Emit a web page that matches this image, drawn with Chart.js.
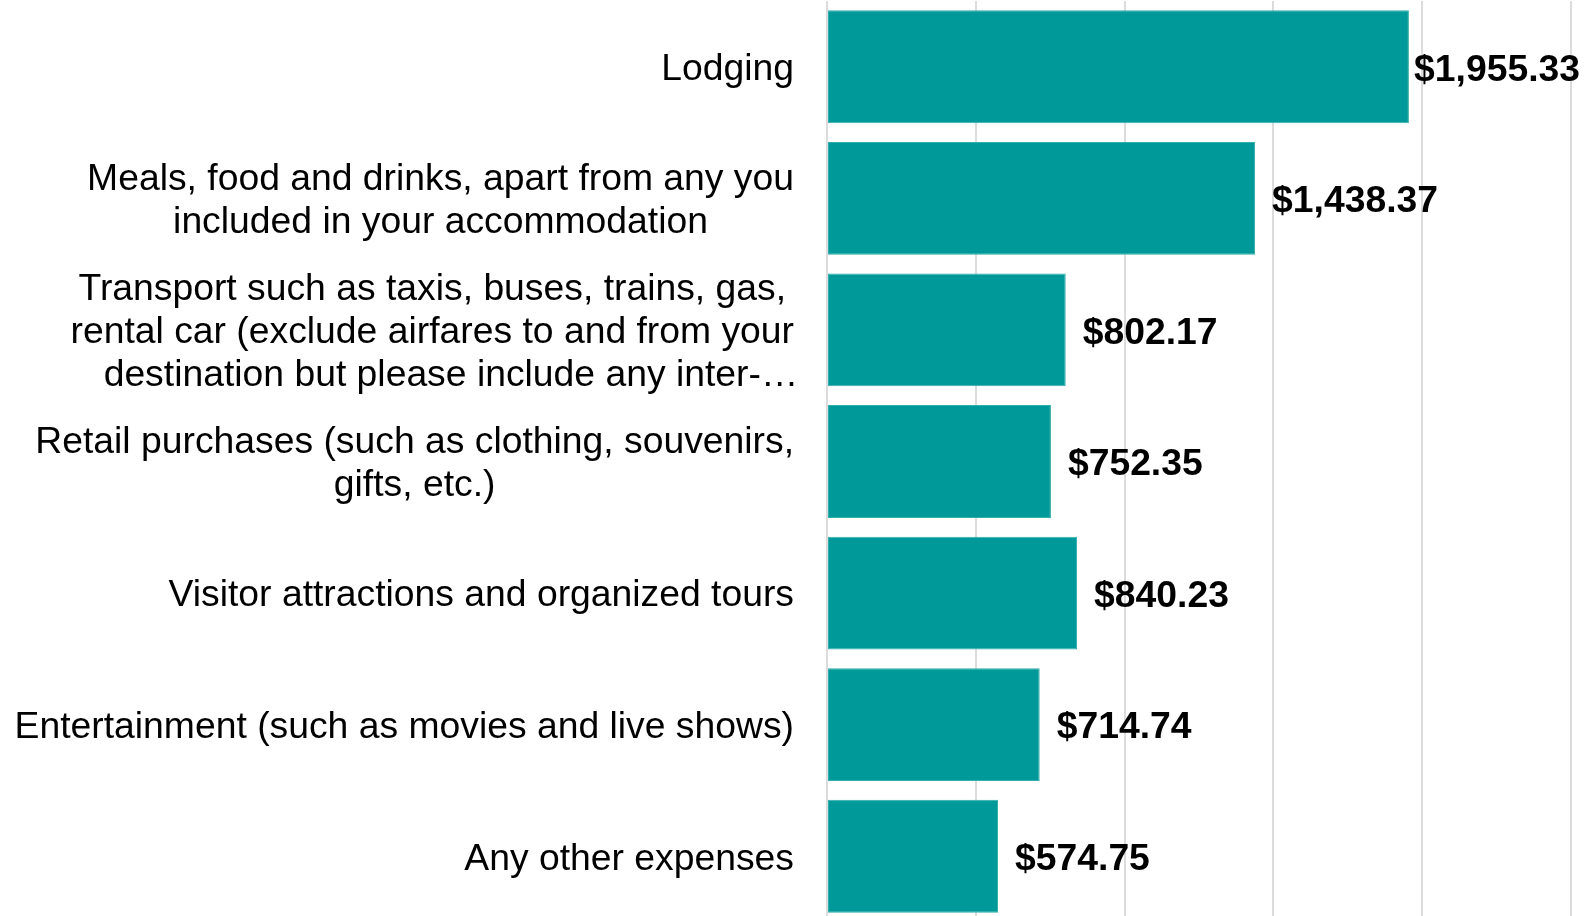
<!DOCTYPE html>
<html>
<head>
<meta charset="utf-8">
<script src="https://cdn.jsdelivr.net/npm/chart.js@4/dist/chart.umd.min.js"></script>
<style>
  html, body { margin: 0; padding: 0; background: #fff; overflow: hidden; }
  #wrap { width: 1585px; height: 922px; }
</style>
</head>
<body>
<div id="wrap"><canvas id="spend-chart"></canvas></div>
<script>
// categories (each label split into its display lines)
const categories = [
  ['Lodging'],
  ['Meals, food and drinks, apart from any you', 'included in your accommodation'],
  ['Transport such as taxis, buses, trains, gas,', 'rental car (exclude airfares to and from your', '\u2003destination but please include any inter-\u2026'],
  ['Retail purchases (such as clothing, souvenirs,', 'gifts, etc.)'],
  ['Visitor attractions and organized tours'],
  ['Entertainment (such as movies and live shows)'],
  ['Any other expenses']
];
const spend = [1955.33, 1438.37, 802.17, 752.35, 840.23, 714.74, 574.75];
const xTicks = [0, 500, 1000, 1500, 2000, 2500];

const FONT = '"Liberation Sans", Arial, sans-serif';

// y labels: each block right aligned, lines centered inside the block
const catLabels = {
  id: 'catLabels',
  afterDraw(chart) {
    const ctx = chart.ctx;
    const y = chart.scales.y;
    ctx.save();
    ctx.font = '37.3px ' + FONT;
    ctx.fillStyle = '#000';
    ctx.textAlign = 'center';
    ctx.textBaseline = 'middle';
    categories.forEach((lines, i) => {
      const w = Math.max(...lines.map(l => ctx.measureText(l.trim()).width));
      const cx = 794 - w / 2;
      const cy = y.getPixelForValue(i) + 3;
      const lh = 43;
      lines.forEach((l, j) => {
        ctx.fillText(l, cx, cy + (j - (lines.length - 1) / 2) * lh);
      });
    });
    ctx.restore();
  }
};

// value labels right of each bar
const valueLabels = {
  id: 'valueLabels',
  afterDatasetsDraw(chart) {
    const ctx = chart.ctx;
    const meta = chart.getDatasetMeta(0);
    ctx.save();
    ctx.font = 'bold 37.3px ' + FONT;
    ctx.fillStyle = '#000';
    ctx.textAlign = 'left';
    ctx.textBaseline = 'middle';
    meta.data.forEach((bar, i) => {
      const txt = '$' + spend[i].toLocaleString('en-US', {minimumFractionDigits: 2, maximumFractionDigits: 2});
      const w = ctx.measureText(txt).width;
      let x = bar.x + 17;
      if (x + w > chart.width - 5) x = chart.width - 5 - w;
      ctx.fillText(txt, x, bar.y + 3.5);
    });
    ctx.restore();
  }
};

new Chart(document.getElementById('spend-chart'), {
  type: 'bar',
  data: {
    labels: categories,
    datasets: [{
      data: spend,
      backgroundColor: '#009999',
      borderColor: '#33adad',
      borderWidth: 1,
      borderSkipped: false,
      barPercentage: 0.858,
      categoryPercentage: 1
    }]
  },
  options: {
    indexAxis: 'y',
    responsive: true,
    maintainAspectRatio: false,
    animation: false,
    layout: { padding: { top: 1, right: 14, bottom: 0, left: 0 } },
    plugins: {
      legend: { display: false },
      tooltip: { enabled: false }
    },
    scales: {
      x: {
        min: 0,
        max: 2500,
        afterBuildTicks: s => { s.ticks = xTicks.map(v => ({ value: v })); },
        ticks: { display: false },
        grid: { color: '#dcdcdc', lineWidth: 2, drawTicks: false },
        border: { display: false }
      },
      y: {
        ticks: { display: false },
        grid: { display: false },
        border: { display: false },
        afterFit: s => { s.width = 827; }
      }
    }
  },
  plugins: [catLabels, valueLabels]
});
</script>
</body>
</html>
